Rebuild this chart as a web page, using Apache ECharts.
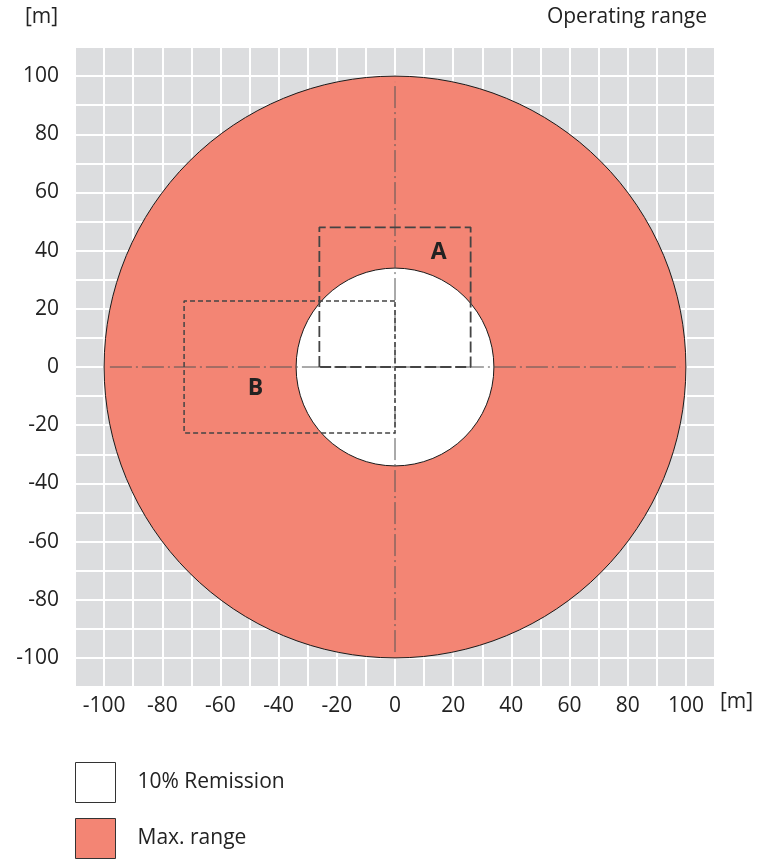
<!DOCTYPE html>
<html><head><meta charset="utf-8">
<script src="https://cdn.jsdelivr.net/npm/echarts@6/dist/echarts.min.js"></script>
<style>html,body{margin:0;padding:0;background:#fff}#c{width:768px;height:859px}</style>
</head><body><div id="c"></div>
<script>
// ---- data ----
const outerRadius = 100;      // Max. range [m]
const innerRadius = 34;       // 10% Remission [m]
const boxAX = [-26, -26, 26, 26, -26];
const boxAY = [0, 48, 48, 0, 0];
const boxBX = [0, -72.5, -72.5, 0, 0];
const boxBY = [22.7, 22.7, -22.7, -22.7, 22.7];
const hLineX = [-98, 98];
const hLineY = [0, 0];
const vLineX = [0, 0];
const vLineY = [-98, 98];
const markNames = ['A', 'B'];
const markX = [15, -48];
const markY = [39.5, -7.5];
const legendNames = ['10% Remission', 'Max. range'];
const tickStep = 10;
const labelStep = 20;
const axisMin = -110, axisMax = 110;

const salmon = '#F38574';
const font = '"Open Sans", "Liberation Sans", Arial, sans-serif';
const fs = 21;
const txt = '#222';

function zip(a, b) { return a.map((v, i) => [v, b[i]]); }
function circleSeries(name, r, color) {
  return {
    name, type: 'custom', silent: true,
    itemStyle: { color },
    data: [[0, 0, r]],
    renderItem: (params, api) => {
      const c = api.coord([api.value(0), api.value(1)]);
      const rr = api.size([api.value(2), 0])[0];
      return { type: 'circle', shape: { cx: c[0], cy: c[1], r: rr },
        style: { fill: color, stroke: '#1a1a1a', lineWidth: 1 } };
    }
  };
}
function lineSeries(x, y, type, color, width) {
  return { type: 'line', silent: true, symbol: 'none', data: zip(x, y),
    lineStyle: { color, width, type }, animation: false };
}
const labelFmt = v => (Math.abs(v) <= 100 && v % labelStep === 0) ? String(v) : '';
function legendAt(name, top) {
  return {
    data: [name], left: 75, top, padding: 0,
    itemWidth: 40, itemHeight: 40, icon: 'rect', selectedMode: false,
    itemStyle: { borderColor: '#333', borderWidth: 1 },
    textStyle: { fontSize: fs, color: txt, fontFamily: font, padding: [0, 0, 0, 17] }
  };
}

const chart = echarts.init(document.getElementById('c'), null, { renderer: 'canvas' });
chart.setOption({
  animation: false,
  grid: { left: 75, right: 53, top: 47, bottom: 172, show: true, backgroundColor: '#DCDDDF', borderWidth: 0 },
  xAxis: {
    type: 'value', min: axisMin, max: axisMax, interval: tickStep,
    axisLine: { show: false }, axisTick: { show: false },
    splitLine: { show: true, lineStyle: { color: '#fff', width: 2 } },
    axisLabel: { formatter: labelFmt, margin: 9, fontSize: fs, color: txt, fontFamily: font, showMinLabel: true, showMaxLabel: true }
  },
  yAxis: {
    type: 'value', min: axisMin, max: axisMax, interval: tickStep,
    axisLine: { show: false }, axisTick: { show: false },
    splitLine: { show: true, lineStyle: { color: '#fff', width: 2 } },
    axisLabel: { formatter: labelFmt, margin: 16, fontSize: fs, color: txt, fontFamily: font, showMinLabel: true, showMaxLabel: true }
  },
  legend: [legendAt(legendNames[0], 762), legendAt(legendNames[1], 818)],
  graphic: [
    { type: 'text', left: 25, top: 7, style: { text: '[m]', fontSize: fs, fill: txt, fontFamily: font } },
    { type: 'text', right: 61, top: 7, style: { text: 'Operating range', fontSize: fs, fill: txt, fontFamily: font } },
    { type: 'text', left: 720, top: 692, style: { text: '[m]', fontSize: fs, fill: txt, fontFamily: font } }
  ],
  series: [
    circleSeries(legendNames[1], outerRadius, salmon),
    circleSeries(legendNames[0], innerRadius, '#ffffff'),
    lineSeries(hLineX, hLineY, [22, 4, 2, 4], '#555', 1),
    lineSeries(vLineX, vLineY, [22, 4, 2, 4], '#555', 1),
    lineSeries(boxBX, boxBY, [5, 3], '#444', 1.5),
    lineSeries(boxAX, boxAY, [11, 4], '#444', 1.8),
    {
      type: 'custom', silent: true,
      data: markNames.map((n, i) => [markX[i], markY[i], i]),
      renderItem: (params, api) => {
        const c = api.coord([api.value(0), api.value(1)]);
        return { type: 'text', x: c[0], y: c[1],
          style: { text: markNames[api.value(2)], fill: '#222', fontSize: 23, fontWeight: 'bold',
            fontFamily: font, align: 'center', verticalAlign: 'middle' } };
      }
    }
  ]
});
</script></body></html>
